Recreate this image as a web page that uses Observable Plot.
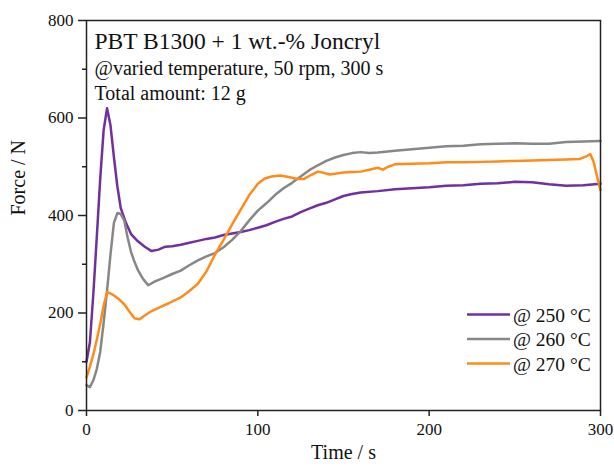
<!DOCTYPE html>
<html>
<head>
<meta charset="utf-8">
<script src="https://cdn.jsdelivr.net/npm/d3@7"></script>
<script src="https://cdn.jsdelivr.net/npm/@observablehq/plot@0.6"></script>
<style>
  html, body { margin: 0; padding: 0; background: white; }
  svg text { font-family: "Liberation Serif", "Times New Roman", serif !important; }
</style>
</head>
<body>
<div id="chart"></div>
<script>
// ---- data ----
const seriesNames = ["@ 250 °C", "@ 260 °C", "@ 270 °C"];
const seriesColors = ["#7030a0", "#878787", "#ff8c1a"];

const time250 = [0, 2, 4, 6, 8, 10, 12, 14, 16, 18, 20, 23, 26, 30, 34, 38, 42, 46, 50, 55, 60, 65, 70, 75, 80, 85, 90, 95, 100, 105, 110, 115, 120, 125, 130, 135, 140, 145, 150, 155, 160, 170, 180, 190, 200, 210, 220, 230, 240, 250, 260, 270, 280, 290, 300];
const force250 = [100, 140, 240, 355, 475, 575, 620, 585, 520, 460, 415, 385, 362, 347, 336, 327, 330, 336, 337, 340, 344, 348, 352, 355, 360, 363, 366, 370, 375, 380, 387, 393, 398, 407, 414, 421, 426, 433, 440, 444, 447, 450, 454, 456, 458, 461, 462, 465, 466, 469, 468, 464, 461, 462, 465];

const time260 = [0, 2, 4, 6, 8, 10, 12, 14, 16, 18, 20, 22, 24, 26, 28, 30, 33, 36, 40, 45, 50, 55, 60, 65, 70, 75, 80, 85, 90, 95, 100, 105, 110, 115, 120, 125, 130, 135, 140, 145, 150, 155, 160, 165, 170, 180, 190, 200, 210, 220, 230, 240, 250, 260, 270, 280, 290, 300];
const force260 = [52, 48, 62, 85, 120, 180, 246, 320, 385, 405, 403, 390, 355, 325, 305, 288, 270, 257, 265, 272, 280, 287, 298, 308, 316, 323, 335, 350, 368, 390, 410, 425, 442, 456, 467, 480, 493, 503, 512, 519, 524, 528, 530, 528, 529, 533, 536, 539, 542, 543, 546, 547, 548, 547, 547, 551, 552, 553];

const time270 = [0, 2, 4, 6, 8, 10, 12, 14, 16, 19, 22, 25, 28, 31, 34, 38, 43, 48, 55, 60, 65, 70, 75, 80, 85, 90, 95, 100, 104, 108, 113, 118, 123, 127, 131, 135, 139, 142, 146, 150, 155, 160, 165, 170, 173, 176, 180, 190, 200, 210, 220, 230, 240, 250, 260, 270, 280, 288, 292, 294, 296, 298, 300];
const force270 = [68, 90, 115, 145, 178, 215, 243, 240, 236, 228, 218, 203, 189, 187, 195, 204, 212, 220, 232, 245, 260, 285, 320, 350, 382, 412, 442, 465, 476, 480, 482, 479, 475, 475, 483, 490, 487, 484, 486, 488, 489, 490, 494, 498, 494, 500, 505, 506, 507, 509, 509, 510, 511, 512, 513, 514, 515, 516, 522, 526, 510, 480, 452];

const xTicks = [0, 100, 200, 300];
const yTicks = [0, 200, 400, 600, 800];
const yMinorTicks = [100, 300, 500, 700];

const titleLines = ["PBT B1300 + 1 wt.-% Joncryl", "@varied temperature, 50 rpm, 300 s", "Total amount: 12 g"];
const xLabel = "Time / s";
const yLabel = "Force / N";

// ---- table ----
const times = [time250, time260, time270];
const forces = [force250, force260, force270];
const rows = seriesNames.flatMap((s, i) => times[i].map((t, j) => ({series: s, t, F: forces[i][j]})));

const FONT = "Liberation Serif";

// legend drawn inside the frame (bottom-right corner)
function legendMark(index, scales, values, dimensions) {
  const {width, height, marginRight, marginBottom} = dimensions;
  const right = width - marginRight;
  const bottom = height - marginBottom;
  const g = d3.create("svg:g")
    .attr("font-family", FONT)
    .attr("font-size", 19.5)
    .attr("text-anchor", "start");
  seriesNames.forEach((name, i) => {
    const y = bottom - 95.5 + i * 24.5;
    g.append("line")
      .attr("x1", right - 133).attr("x2", right - 90)
      .attr("y1", y).attr("y2", y)
      .attr("stroke", scales.color(name)).attr("stroke-width", 2.5);
    g.append("text")
      .attr("x", right - 87).attr("y", y + 7)
      .attr("text-anchor", "start")
      .style("font-family", FONT)
      .attr("fill", "#111").text(name);
  });
  return g.node();
}

const chart = Plot.plot({
  width: 614,
  height: 468,
  marginLeft: 86,
  marginRight: 14,
  marginTop: 20,
  marginBottom: 58,
  style: {fontFamily: FONT, fontSize: "17px", color: "#111", background: "white"},
  x: {domain: [0, 300]},
  y: {domain: [0, 800]},
  color: {domain: seriesNames, range: seriesColors},
  marks: [
    Plot.line(rows, {x: "t", y: "F", z: "series", stroke: "series", strokeWidth: 2.5, strokeLinejoin: "round"}),
    Plot.frame({stroke: "#222", strokeWidth: 1.5}),
    Plot.axisX(xTicks, {tickSize: 6, tickPadding: 6, stroke: "#222", strokeWidth: 1.5, fontSize: 17, fontFamily: FONT, fontVariant: "normal", label: null}),
    Plot.axisY(yTicks, {tickSize: 8, tickPadding: 5, stroke: "#222", strokeWidth: 1.5, fontSize: 17, fontFamily: FONT, fontVariant: "normal", label: null}),
    Plot.axisY(yMinorTicks, {tickSize: 4, tickFormat: () => "", stroke: "#222", strokeWidth: 1.5, label: null}),
    Plot.text([xLabel], {text: d => d, frameAnchor: "bottom", dy: 48, fontSize: 20, fontFamily: FONT, fill: "#111"}),
    Plot.text([yLabel], {text: d => d, frameAnchor: "left", dx: -68, rotate: -90, fontSize: 20, fontFamily: FONT, fill: "#111"}),
    Plot.text([titleLines[0]], {text: d => d, frameAnchor: "top-left", textAnchor: "start", lineAnchor: "bottom", dx: 8, dy: 28, fontSize: 23.5, fontFamily: FONT, fill: "#111"}),
    Plot.text([titleLines[1]], {text: d => d, frameAnchor: "top-left", textAnchor: "start", lineAnchor: "bottom", dx: 8, dy: 54, fontSize: 20, fontFamily: FONT, fill: "#111"}),
    Plot.text([titleLines[2]], {text: d => d, frameAnchor: "top-left", textAnchor: "start", lineAnchor: "bottom", dx: 8, dy: 79, fontSize: 20, fontFamily: FONT, fill: "#111"}),
    legendMark
  ]
});
document.getElementById("chart").appendChild(chart);
</script>
</body>
</html>
